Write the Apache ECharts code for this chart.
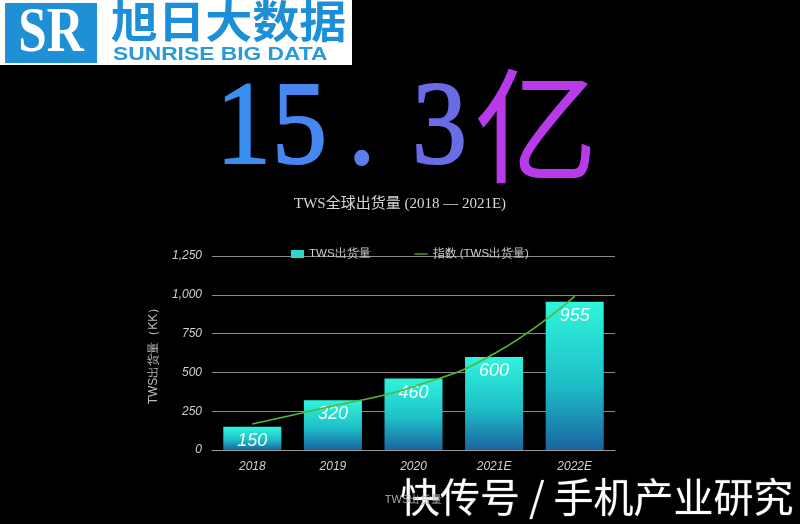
<!DOCTYPE html>
<html lang="zh">
<head>
  <meta charset="UTF-8">
  <title>TWS全球出货量</title>
  <script src="https://cdn.jsdelivr.net/npm/echarts@6.0.0/dist/echarts.min.js"></script>
  <style>
    html, body { margin: 0; padding: 0; background: #000; }
    #char { width: 800px; height: 524px; }
  </style>
</head>
<body>
  <div id="char"></div>
  <script>
    // 数据
    const years = ['2018', '2019', '2020', '2021E', '2022E'];
    const shipments = [150, 320, 460, 600, 955];
    const trend = [168, 283, 408, 620, 990];
    const yTicks = ['0', '250', '500', '750', '1,000', '1,250'];

    const myChart = echarts.init(document.getElementById('char'), null, { renderer: 'canvas' });

    // 大标题 "15. 3亿" 每个字一段颜色
    const bigFont = '110px "Liberation Serif"';
    const bigParts = [
      { text: '1', x: 216, color: '#3a8ef2' },
      { text: '5', x: 272, color: '#4886f0' },
      { text: '.', x: 348, color: '#5a7cec' },
      { text: '3', x: 412, color: '#6a6ce6' }
    ];

    const option = {
      backgroundColor: '#000',
      title: {
        text: 'TWS全球出货量 (2018 — 2021E)',
        left: 'center',
        top: 192,
        textStyle: { color: '#d8d8d8', fontFamily: 'Liberation Serif, Noto Sans CJK SC', fontSize: 15, fontWeight: 'normal' }
      },
      legend: {
        top: 243,
        left: 286,
        itemWidth: 13,
        itemHeight: 8,
        itemGap: 44,
        textStyle: { color: '#cfcfcf', fontSize: 11.5 },
        data: [
          { name: 'TWS出货量', icon: 'rect', itemStyle: { color: '#2ad8cc' } },
          { name: '指数 (TWS出货量)', icon: 'path://M0,0H20V2H0Z', itemStyle: { color: '#4fb834' } }
        ]
      },
      grid: { left: 212, right: 185, top: 256, bottom: 74 },
      xAxis: {
        type: 'category',
        data: years,
        name: 'TWS出货量',
        nameLocation: 'middle',
        nameGap: 44,
        nameTextStyle: { color: '#aaa', fontSize: 11 },
        axisLine: { lineStyle: { color: '#999' } },
        axisTick: { show: false },
        axisLabel: { color: '#d0d0d0', fontSize: 12, fontStyle: 'italic', margin: 11 }
      },
      yAxis: {
        type: 'value',
        min: 0,
        max: 1250,
        interval: 250,
        name: 'TWS出货量（KK）',
        nameLocation: 'middle',
        nameGap: 52,
        nameTextStyle: { color: '#bbb', fontSize: 12 },
        axisLine: { show: false },
        axisTick: { show: false },
        axisLabel: {
          color: '#cfcfcf', fontSize: 12, fontStyle: 'italic', margin: 10,
          formatter: (v) => yTicks[v / 250]
        },
        splitLine: { lineStyle: { color: '#8a8a8a', width: 1 } }
      },
      series: [
        {
          name: 'TWS出货量',
          type: 'bar',
          data: shipments,
          barWidth: '72%',
          itemStyle: {
            color: new echarts.graphic.LinearGradient(0, 0, 0, 1, [
              { offset: 0, color: '#30f4dc' },
              { offset: 0.55, color: '#1ec0c8' },
              { offset: 1, color: '#1a64a0' }
            ])
          },
          label: {
            show: true,
            position: 'insideTop',
            distance: 5,
            color: '#f0fffb',
            fontSize: 18,
            fontStyle: 'italic'
          }
        },
        {
          name: '指数 (TWS出货量)',
          type: 'line',
          data: trend,
          smooth: true,
          symbol: 'none',
          z: 5,
          lineStyle: { color: '#4fb834', width: 1.6 },
          itemStyle: { color: '#4fb834' }
        }
      ],
      graphic: [
        // 旭日大数据 logo
        { type: 'rect', shape: { x: 0, y: 0, width: 352, height: 65 }, style: { fill: '#fff' } },
        { type: 'rect', shape: { x: 5, y: 3, width: 92, height: 60 }, style: { fill: '#1f8fd6' } },
        {
          type: 'text', x: 51, y: 34, scaleX: 0.8,
          style: { text: 'SR', fill: '#fff', font: 'bold 64px "Liberation Serif"', align: 'center', verticalAlign: 'middle' }
        },
        {
          type: 'text', x: 111, y: -1, scaleX: 1.07,
          style: { text: '旭日大数据', fill: '#1c8fd8', font: 'bold 44px "Noto Sans CJK SC"' }
        },
        {
          type: 'text', x: 113, y: 45, scaleX: 1.2,
          style: { text: 'SUNRISE BIG DATA', fill: '#2b9ad8', font: 'bold 19px "Liberation Sans"' }
        },
        ...bigParts.map((p) => ({
          type: 'text', x: p.x, y: 191, scaleY: 1.08,
          style: { text: p.text, fill: p.color, stroke: p.color, lineWidth: 2, font: bigFont, verticalAlign: 'bottom' }
        })),
        {
          type: 'text', x: 474, y: 188,
          style: { text: '亿', fill: '#b83ae8', font: '124px "Noto Sans CJK SC"', verticalAlign: 'bottom' }
        },
        // 水印
        {
          type: 'text', x: 400, y: 477,
          style: {
            text: '快传号 / 手机产业研究', fill: '#fff',
            font: '40px "Noto Sans CJK SC"',
            stroke: '#333', lineWidth: 1
          }
        }
      ]
    };

    option && myChart.setOption(option);
  </script>
</body>
</html>
